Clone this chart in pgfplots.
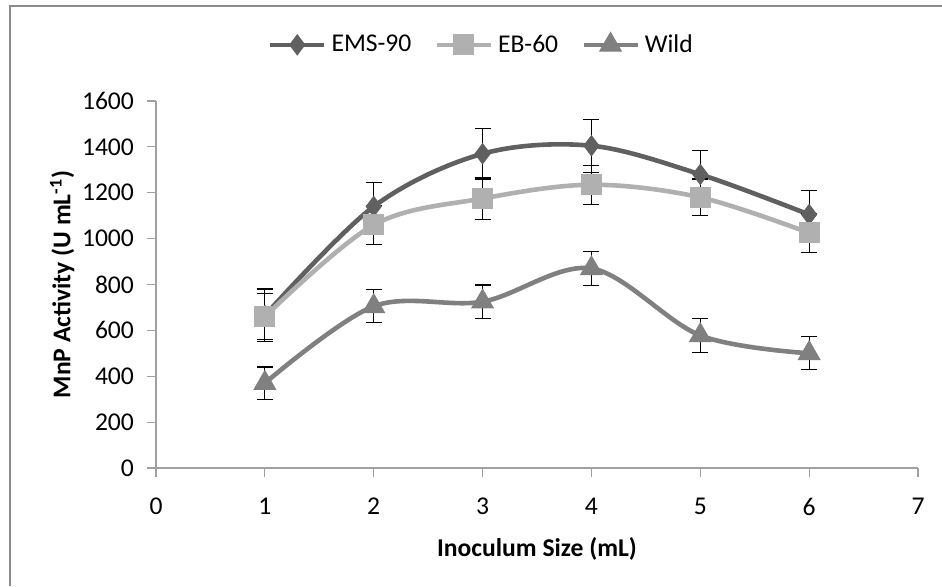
\documentclass[border=0pt]{standalone}
\usepackage{fontspec}
\setmainfont{Carlito}
\usepackage{pgfplots}
\pgfplotsset{compat=1.18}
\definecolor{emsc}{RGB}{96,96,96}
\definecolor{ebc}{RGB}{176,176,176}
\definecolor{wildc}{RGB}{128,128,128}
\definecolor{axgray}{RGB}{160,160,160}
\definecolor{framegray}{RGB}{140,140,140}
\begin{document}
\begin{tikzpicture}
\useasboundingbox (0,0) rectangle (471pt,293pt);
\draw[framegray, line width=1pt] (5pt,0) -- (5pt,290pt) -- (471pt,290pt);
\begin{axis}[
  at={(78pt,59pt)}, anchor=south west,
  scale only axis, width=381pt, height=183.5pt,
  xmin=0, xmax=7, ymin=0, ymax=1600,
  xtick={0,1,...,7}, ytick={0,200,...,1600},
  axis lines=left, axis line style={-, axgray, line width=0.6pt},
  tick align=outside, tick style={axgray, line width=0.6pt},
  major tick length=4.5pt,
  /pgf/number format/assume math mode=true,
  ticklabel style={font=\fontsize{12.8}{15}\selectfont, text=black},
  yticklabel style={xshift=-3pt},
  xticklabel style={yshift=-7pt},
  scaled y ticks=false,
  yticklabel={\pgfmathprintnumber[fixed, 1000 sep={}]{\tick}},
  xlabel={\textbf{Inoculum Size (mL)}},
  ylabel={\textbf{MnP Activity (U mL\textsuperscript{-1})}},
  label style={font=\fontsize{12.8}{15}\selectfont},
  xlabel style={at={(axis description cs:0.5,-0.2207)}, anchor=center},
  ylabel style={at={(axis description cs:-0.123,0.5)}, anchor=center},
  legend columns=3,
  legend style={at={(axis description cs:0.429,1.153)}, anchor=center, draw=none, fill=none,
    font=\fontsize{12.8}{15}\selectfont, nodes={inner xsep=2.5pt},
    /tikz/every even column/.append style={column sep=9pt}},
  legend image code/.code={\draw[mark repeat=2, mark phase=2] plot coordinates {(0pt,0pt) (13.5pt,0pt) (27pt,0pt)};},
  error bars/error bar style={black, line width=0.6pt},
  error bars/error mark options={rotate=90, mark size=4pt, black, line width=0.6pt},
]
\addplot+[emsc, line width=2.3pt, smooth, tension=0.55, mark=diamond*, mark size=5pt,
  mark options={fill=emsc, draw=emsc, line width=0.5pt},
  error bars/.cd, y dir=both, y explicit]
  coordinates {(1,665) +- (0,115) (2,1140) +- (0,105) (3,1370) +- (0,110) (4,1405) +- (0,115) (5,1280) +- (0,105) (6,1105) +- (0,105)};
\addlegendentry{EMS-90}
\addplot+[ebc, line width=2.3pt, smooth, tension=0.55, mark=square*, mark size=5pt,
  mark options={fill=ebc, draw=ebc, line width=0.5pt},
  error bars/.cd, y dir=both, y explicit]
  coordinates {(1,660) +- (0,100) (2,1060) +- (0,85) (3,1175) +- (0,90) (4,1235) +- (0,85) (5,1180) +- (0,80) (6,1025) +- (0,85)};
\addlegendentry{EB-60}
\addplot+[wildc, line width=2.3pt, smooth, tension=0.55, mark=triangle*, mark size=6.2pt,
  mark options={fill=wildc, draw=wildc, line width=0.5pt},
  error bars/.cd, y dir=both, y explicit]
  coordinates {(1,370) +- (0,70) (2,705) +- (0,72) (3,725) +- (0,73) (4,870) +- (0,73) (5,578) +- (0,73) (6,500) +- (0,72)};
\addlegendentry{Wild}
\end{axis}
\end{tikzpicture}
\end{document}
